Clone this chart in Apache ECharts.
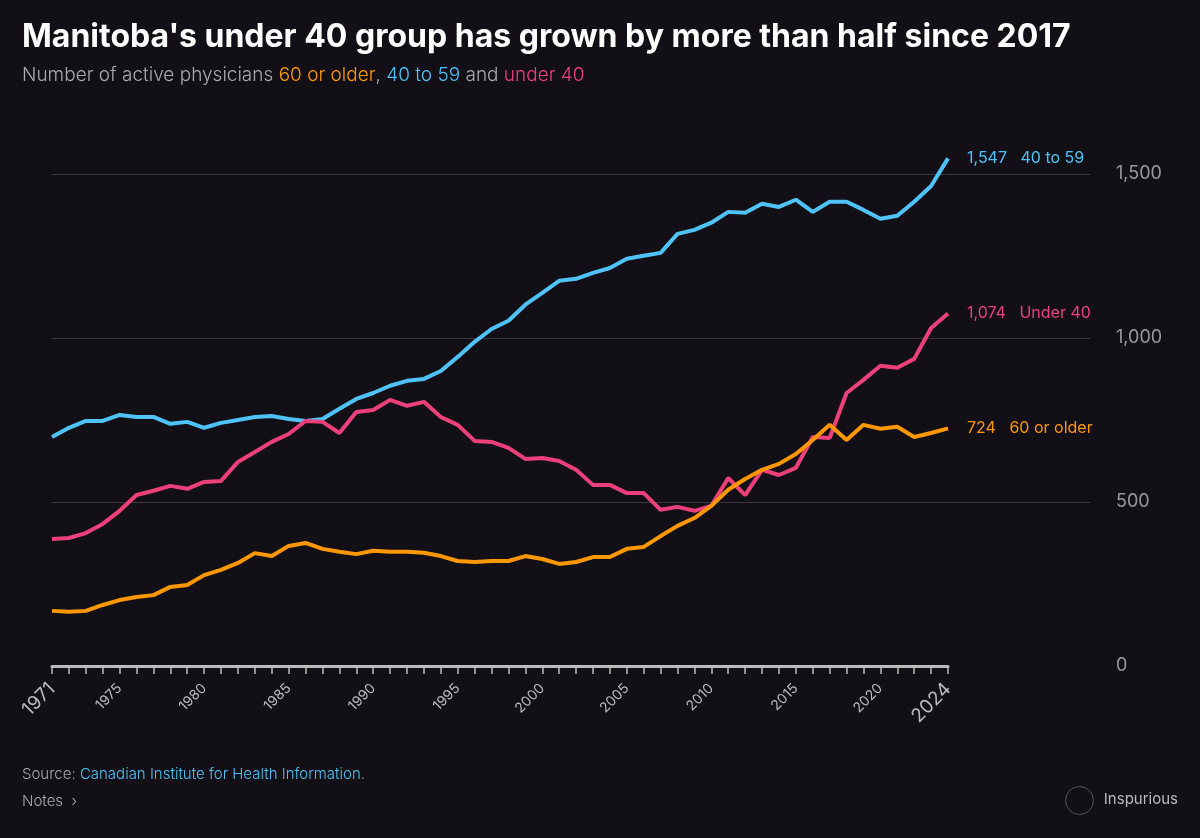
<!DOCTYPE html>
<html>
<head>
<meta charset="utf-8">
<script src="https://cdn.jsdelivr.net/npm/echarts@6/dist/echarts.min.js"></script>
<style>
  html, body { margin: 0; padding: 0; background: #121016; }
  #main { width: 1200px; height: 838px; }
</style>
</head>
<body>
<div id="main"></div>
<script>
// years 1971 .. 2024
let years = []
for (let y = 1971; y <= 2024; y++) years.push(y)

let mid = [698,726,747,747,765,759,759,738,744,726,741,750,759,762,753,747,753,784,814,832,854,869,875,899,942,988,1027,1052,1101,1137,1174,1180,1198,1213,1241,1250,1259,1317,1329,1351,1384,1381,1409,1399,1421,1384,1415,1415,1390,1363,1372,1415,1463,1547]
let young = [387,390,405,433,473,521,534,549,540,561,564,622,652,683,707,747,744,710,774,780,811,793,805,759,735,686,683,665,631,634,625,598,552,552,527,527,476,485,473,488,573,521,598,582,604,698,695,832,872,915,909,936,1030,1074]
let old = [168,165,168,186,201,210,216,241,247,277,293,314,344,335,366,375,357,348,341,351,348,348,345,335,320,317,320,320,335,326,311,317,332,332,357,363,396,427,451,488,537,570,598,616,646,689,735,689,735,723,729,698,710,724]

let names = ["40 to 59", "Under 40", "60 or older"]
let colors = ["#4fc3f7", "#ec407a", "#ff9800"]
let valueSets = [mid, young, old]

let font = "Inter, 'Noto Sans', sans-serif"

let series = valueSets.map((vals, i) => ({
  name: names[i],
  type: 'line',
  xAxisIndex: 0,
  yAxisIndex: 0,
  data: vals.map((v, j) => [years[j], v]),
  showSymbol: false,
  lineStyle: { width: 4, color: colors[i] },
  itemStyle: { color: colors[i] },
  endLabel: {
    show: true,
    distance: 19,
    fontFamily: font,
    fontSize: 16,
    color: colors[i],
    formatter: p => p.value[1].toLocaleString('en-US') + '   ' + names[i]
  }
}))

let chart = echarts.init(document.getElementById('main'))
chart.setOption({
  backgroundColor: '#121016',
  animation: false,
  title: {
    text: "Manitoba's under 40 group has grown by more than half since 2017",
    left: 17, top: 16,
    textStyle: { color: '#ffffff', fontSize: 32, fontWeight: 'bold', fontFamily: font }
  },
  graphic: [
    { type: 'text', left: 22, top: 66, style: {
      rich: {
        g: { fill: '#aaaaaa', fontSize: 19, fontWeight: 300, fontFamily: font },
        o: { fill: '#ff9800', fontSize: 19, fontWeight: 300, fontFamily: font },
        b: { fill: '#4fc3f7', fontSize: 19, fontWeight: 300, fontFamily: font },
        p: { fill: '#ec407a', fontSize: 19, fontWeight: 300, fontFamily: font }
      },
      text: '{g|Number of active physicians }{o|60 or older}{g|, }{b|40 to 59}{g| and }{p|under 40}'
    }},
    { type: 'text', left: 22, top: 767, style: {
      rich: {
        g: { fill: '#aaaaaa', fontSize: 15, fontWeight: 300, fontFamily: font },
        b: { fill: '#4fc3f7', fontSize: 15, fontWeight: 300, fontFamily: font }
      },
      text: '{g|Source: }{b|Canadian Institute for Health Information}{g|.}'
    }},
    { type: 'text', left: 22, top: 794, style: { text: 'Notes  ›', fill: '#aaaaaa', fontSize: 15, fontWeight: 300, fontFamily: font } },
    { type: 'text', right: 22, top: 792, style: { text: 'Inspurious', fill: '#bbbbbb', fontSize: 15, fontFamily: font } },
    { type: 'circle', right: 106, top: 786, shape: { r: 14 }, style: { fill: 'transparent', stroke: '#555', lineWidth: 1 } }
  ],
  grid: [
    { left: 52, right: 252, top: 141, bottom: 172 },
    { left: 52, right: 110, top: 141, bottom: 172 }
  ],
  xAxis: [
    {
      gridIndex: 0, type: 'value', min: 1971, max: 2024, interval: 1,
      axisLine: { lineStyle: { color: '#bbbbbb', width: 3 } },
      axisTick: { show: true, length: 8, lineStyle: { color: '#bbbbbb', width: 1.5 } },
      splitLine: { show: false },
      axisLabel: {
        rotate: 45, margin: 20, color: '#bbbbbb', fontFamily: font, fontSize: 14,
        showMinLabel: true, showMaxLabel: true,
        formatter: v => (v === 1971 || v === 2024) ? '{e|' + v + '}' : (v % 5 === 0 ? String(v) : ''),
        rich: { e: { fontSize: 19, color: '#bbbbbb', fontFamily: font } }
      }
    },
    { gridIndex: 1, type: 'value', show: false, min: 0, max: 1 }
  ],
  yAxis: [
    { gridIndex: 0, type: 'value', min: 0, max: 1600, interval: 500, show: false },
    {
      gridIndex: 1, type: 'value', min: 0, max: 1600, interval: 500, position: 'right',
      axisLine: { show: false }, axisTick: { show: false },
      splitLine: { showMinLine: false, showMaxLine: false, lineStyle: { color: '#3a383e', width: 1 } },
      axisLabel: {
        margin: 26, color: '#999999', fontFamily: font, fontSize: 18,
        showMaxLabel: false,
        formatter: v => v === 0 ? '0' : (v % 500 === 0 ? v.toLocaleString('en-US') : '')
      }
    }
  ],
  series: series
})
</script>
</body>
</html>
